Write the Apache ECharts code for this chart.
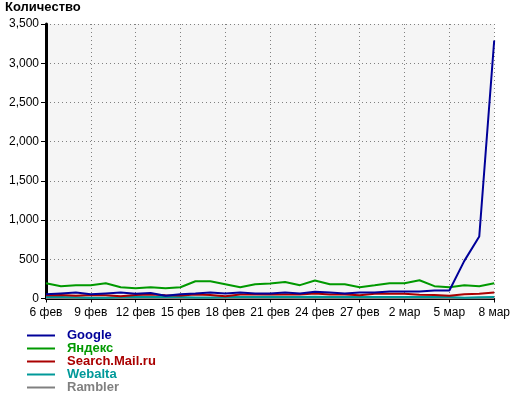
<!DOCTYPE html>
<html><head><meta charset="utf-8">
<script src="https://cdn.jsdelivr.net/npm/echarts@6/dist/echarts.min.js"></script>
<style>html,body{margin:0;padding:0;background:#fff}#c{width:513px;height:394px}</style>
</head><body><div id="c"></div>
<script>
var categories = ["6 фев","7 фев","8 фев","9 фев","10 фев","11 фев","12 фев","13 фев","14 фев","15 фев","16 фев","17 фев","18 фев","19 фев","20 фев","21 фев","22 фев","23 фев","24 фев","25 фев","26 фев","27 фев","28 фев","1 мар","2 мар","3 мар","4 мар","5 мар","6 мар","7 мар","8 мар"];
var yTicks = [0, 500, 1000, 1500, 2000, 2500, 3000, 3500];
var google = [55,65,75,55,65,75,60,70,35,55,65,76,65,76,65,65,76,65,85,76,65,76,76,89,89,89,102,102,480,790,3290];
var yandex = [195,157,169,169,195,144,131,144,131,144,220,220,182,144,182,190,210,170,230,182,182,144,169,195,195,233,157,144,169,157,195];
var mail = [40,45,35,45,40,30,45,50,40,38,50,45,28,50,50,50,51,51,63,51,51,40,60,62,60,48,45,35,55,60,78];
var webalta = [20,18,15,8,10,20,22,18,20,20,12,12,20,20,20,22,20,20,22,20,20,20,20,20,20,20,20,18,10,15,20];
var rambler = [5,5,4,3,4,5,6,5,5,4,5,5,6,5,5,5,5,4,5,5,5,5,5,5,5,5,5,4,3,4,5];
var names = ["Google","Яндекс","Search.Mail.ru","Webalta","Rambler"];
var colors = ["#000099","#009900","#aa0000","#009999","#808080"];
var values = [google, yandex, mail, webalta, rambler];

var chart = echarts.init(document.getElementById('c'), null, {renderer:'canvas'});
var series = names.map(function(n, i){
  return {name:n, type:'line', data:values[i], showSymbol:false, symbol:'none',
    lineStyle:{color:colors[i], width:2}, itemStyle:{color:colors[i]}, z: 10 - i, animation:false};
});
chart.setOption({
  animation:false,
  title:{text:'Количество', left:5, top:1, padding:0, textStyle:{fontFamily:'Liberation Sans', fontWeight:'bold', fontSize:13, color:'#000'}},
  grid:{left:46, right:17, top:24, bottom:95.5, show:true, backgroundColor:'#f5f5f5', borderWidth:0},
  legend:{orient:'vertical', left:27, top:329, padding:0, height:70, itemWidth:28, itemHeight:2, itemGap:0, icon:'rect',
    data: names.map(function(n,i){return {name:n, textStyle:{color:colors[i]}};}),
    textStyle:{fontFamily:'Liberation Sans', fontWeight:'bold', fontSize:13, lineHeight:13, padding:[0,0,0,7]}},
  xAxis:{type:'category', data:categories, boundaryGap:false, offset:2,
    axisLine:{show:true, lineStyle:{color:'#000', width:2}},
    axisTick:{show:true, interval:2, length:4, lineStyle:{color:'#000', width:1}},
    axisLabel:{interval:2, color:'#000', fontFamily:'Liberation Sans', fontSize:12, margin:6},
    splitLine:{show:true, interval:2, lineStyle:{color:'#808080', type:[1,3], width:1}}},
  yAxis:{type:'value', min:0, max:3500, interval:500,
    axisLine:{show:true, lineStyle:{color:'#000', width:3}},
    axisTick:{show:true, length:5, lineStyle:{color:'#000'}},
    axisLabel:{color:'#000', fontFamily:'Liberation Sans', fontSize:12, margin:7,
      formatter:function(v){return v.toLocaleString('en-US');}},
    splitLine:{show:true, lineStyle:{color:'#808080', type:[1,3], width:1}}},
  series: series
});
</script></body></html>
